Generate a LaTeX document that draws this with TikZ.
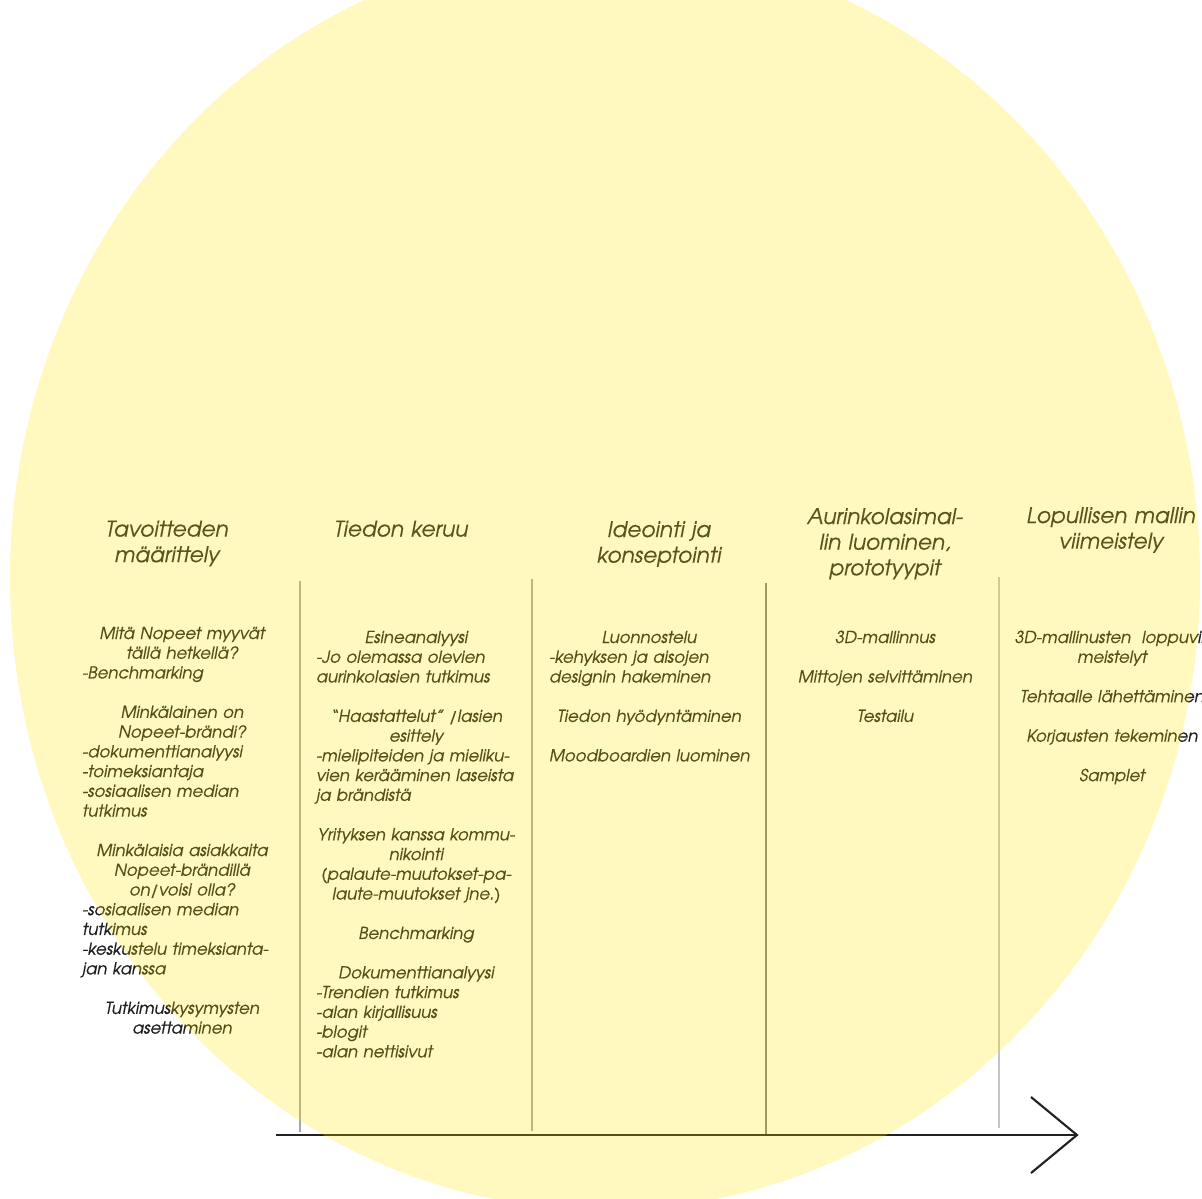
\documentclass[tikz,border=0pt]{standalone}
\usepackage{fontspec}
\newfontfamily\agfont{texgyreadventor-italic}[Extension=.otf, FakeBold=0.25]
\newfontfamily\agbody{texgyreadventor-italic}[Extension=.otf, FakeBold=0.6]
\definecolor{sunY}{RGB}{255,231,0}
\definecolor{bodyc}{HTML}{1E1E1E}
\definecolor{headc}{HTML}{252525}
\definecolor{divc}{HTML}{A6A6A6}
\definecolor{divlight}{HTML}{C4C4C4}
\newcommand\ctrln[1]{\hspace*{\fill}\mbox{#1}\hspace*{\fill}\null}
\newcommand\lftln[1]{\mbox{#1}}
\tikzset{
  body/.style={anchor=base west, inner sep=0pt, align=left, text width=4cm, text=bodyc,
    font=\agbody\fontsize{9.4}{11.23}\selectfont},
  head/.style={anchor=base, inner sep=0pt, align=center, text width=5cm, text=headc,
    font=\agfont\fontsize{12.3}{14.6}\selectfont},
  divider/.style={draw=divc, line width=1.1pt},
  axisline/.style={draw=black!87, line width=1.4pt},
  headline/.style={draw=black!87, line width=1.2pt},
}
\begin{document}
\begin{tikzpicture}[x=0.02cm, y=-0.02cm]
\useasboundingbox (0,0) rectangle (1202,1198);
\clip (0,0) rectangle (1202,1198);
\fill[white] (0,0) rectangle (1202,1198);

% headings
\node[head] (h1) at (167,536.5) {Tavoitteden\\määrittely};
\node[head] (h2) at (401,536.5) {Tiedon keruu};
\node[head] (h3) at (659,537) {Ideointi ja\\konseptointi};
\node[head] (h4) at (885,524) {Aurinkolasimal-\\lin luominen,\\prototyypit};
\node[head] (h5) at (1111,523) {Lopullisen mallin\\viimeistely};

% column bodies
\node[body] (c1) at (82,639) {%
\ctrln{Mitä Nopeet myyvät}\\
\ctrln{tällä hetkellä?}\\
\lftln{-Benchmarking}\\
\mbox{}\\
\ctrln{Minkälainen on}\\
\ctrln{Nopeet-brändi?}\\
\lftln{-dokumenttianalyysi}\\
\lftln{-toimeksiantaja}\\
\lftln{-sosiaalisen median}\\
\lftln{tutkimus}\\
\mbox{}\\
\ctrln{Minkälaisia asiakkaita}\\
\ctrln{Nopeet-brändillä}\\
\ctrln{on/voisi olla?}\\
\lftln{-sosiaalisen median}\\
\lftln{tutkimus}\\
\lftln{-keskustelu timeksianta-}\\
\lftln{jan kanssa}\\
\mbox{}\\
\ctrln{Tutkimuskysymysten}\\
\ctrln{asettaminen}};

\node[body] (c2) at (316,643) {%
\ctrln{Esineanalyysi}\\
\lftln{-Jo olemassa olevien}\\
\lftln{aurinkolasien tutkimus}\\
\mbox{}\\
\ctrln{“Haastattelut” /lasien}\\
\ctrln{esittely}\\
\lftln{-mielipiteiden ja mieliku-}\\
\lftln{vien kerääminen laseista}\\
\lftln{ja brändistä}\\
\mbox{}\\
\ctrln{Yrityksen kanssa kommu-}\\
\ctrln{nikointi}\\
\ctrln{(palaute-muutokset-pa-}\\
\ctrln{laute-muutokset jne.)}\\
\mbox{}\\
\ctrln{Benchmarking}\\
\mbox{}\\
\ctrln{Dokumenttianalyysi}\\
\lftln{-Trendien tutkimus}\\
\lftln{-alan kirjallisuus}\\
\lftln{-blogit}\\
\lftln{-alan nettisivut}};

\node[body] (c3) at (549,643) {%
\ctrln{Luonnostelu}\\
\lftln{-kehyksen ja aisojen}\\
\lftln{designin hakeminen}\\
\mbox{}\\
\ctrln{Tiedon hyödyntäminen}\\
\mbox{}\\
\ctrln{Moodboardien luominen}};

\node[body] (c4) at (785,643) {%
\ctrln{3D-mallinnus}\\
\mbox{}\\
\ctrln{Mittojen selvittäminen}\\
\mbox{}\\
\ctrln{Testailu}};

\node[body] (c5) at (1012,643) {%
\ctrln{3D-mallinusten\ \ loppuvii-}\\
\ctrln{meistelyt}\\
\mbox{}\\
\ctrln{Tehtaalle lähettäminen}\\
\mbox{}\\
\ctrln{Korjausten tekeminen}\\
\mbox{}\\
\ctrln{Samplet}};

% dividers
\coordinate (d1t) at (300,581); \coordinate (d1b) at (300,1132);
\coordinate (d2t) at (532,579); \coordinate (d2b) at (532,1131);
\coordinate (d3t) at (766,583); \coordinate (d3b) at (766,1135);
\coordinate (d4t) at (999,577); \coordinate (d4b) at (999,1128);
\draw[divider] (d1t) -- (d1b);
\draw[divider] (d2t) -- (d2b);
\draw[divider, draw=black!50] (d3t) -- (d3b);
\draw[divider, draw=divlight, line width=1.5pt] (d4t) -- (d4b);

% time axis
\coordinate (axS) at (276,1135);
\coordinate (axE) at (1077,1135);
\coordinate (ahT) at (1031,1097);
\coordinate (ahB) at (1031,1173);
\draw[axisline] (axS) -- (axE);
\draw[headline, line join=miter] (ahT) -- (axE) -- (ahB);

% translucent sun
\fill[sunY, fill opacity=0.247] (605,578) ellipse [x radius=595, y radius=632];
\end{tikzpicture}
\end{document}
